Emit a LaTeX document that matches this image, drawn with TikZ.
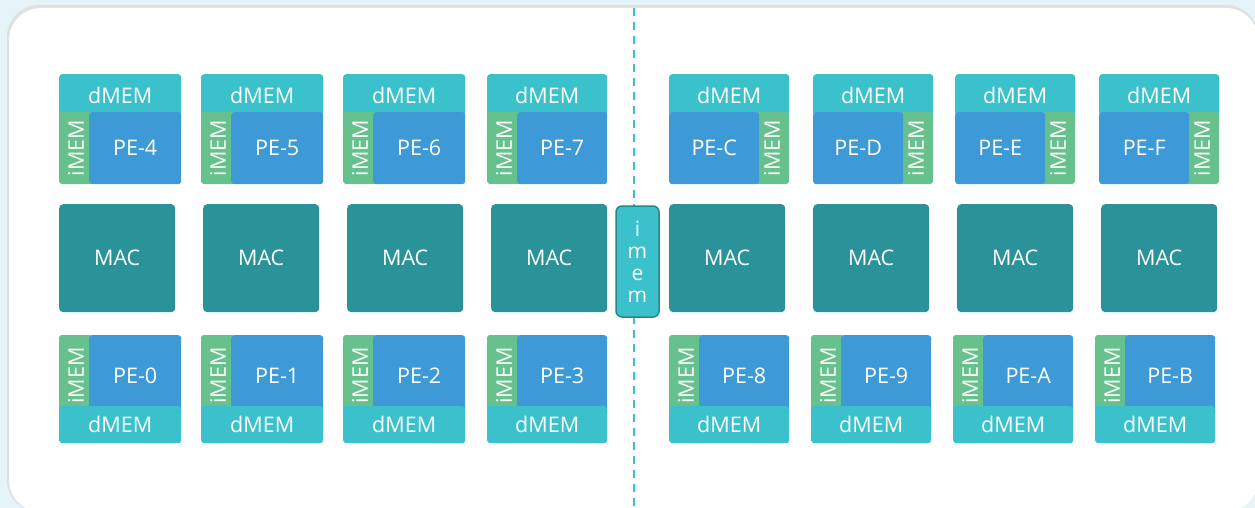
\documentclass[tikz,border=0pt]{standalone}
\usepackage{fontspec}
\setmainfont{Open Sans}
\usepackage{tikz}

\definecolor{bgtint}{HTML}{E4F4F8}
\definecolor{dmemcyan}{HTML}{3BC1CC}
\definecolor{peblue}{HTML}{3D9AD6}
\definecolor{imemgreen}{HTML}{67C18D}
\definecolor{macteal}{HTML}{2A9299}
\definecolor{imemedge}{HTML}{27878F}

\newcommand{\tilefont}{\fontsize{21.5}{24}\selectfont}
\newcommand{\stackfont}{\fontsize{21}{22}\selectfont}

\tikzset{
  tile/.style={inner sep=0pt, anchor=north west, text=white,
               rounded corners=3pt, font=\tilefont},
  dmem/.style={tile, fill=dmemcyan, minimum height=#1},
  pecore/.style={tile, fill=peblue, minimum width=#1},
  imemstrip/.style={tile, fill=imemgreen, anchor=center, rotate=90,
                    minimum height=34pt, minimum width=#1},
  mac/.style={tile, fill=macteal, rounded corners=4pt,
              minimum width=116pt, minimum height=108pt},
  imembox/.style={fill=dmemcyan, draw=imemedge, line width=1.5pt,
                  rounded corners=6pt, text=white, inner sep=0pt,
                  minimum width=43pt, minimum height=111pt,
                  align=center, font=\stackfont},
  busline/.style={dmemcyan, line width=1.5pt, dash pattern=on 8pt off 6pt}
}

\begin{document}
\begin{tikzpicture}[x=1pt, y=-1pt]

\useasboundingbox (0,0) rectangle (1255,508);
\clip (0,0) rectangle (1255,508);

% backdrop and panel
\fill[bgtint] (0,0) rectangle (1255,508);
\fill[black!12, rounded corners=32pt] (7,5) rectangle (1258,512);
\fill[white, rounded corners=32pt] (9,8) rectangle (1258,512);

% shared bus
\coordinate (bustop) at (634,8);
\coordinate (busbot) at (634,508);
\draw[busline] (bustop) -- (busbot);

% upper row, left half
\node[dmem=42pt, minimum width=122pt] (dmem4) at (59,74) {dMEM};
\node[imemstrip=72pt] (imem4) at (76,148) {iMEM};
\node[pecore=92pt, minimum height=72pt] (pe4) at (89,112) {PE-4};

\node[dmem=42pt, minimum width=122pt] (dmem5) at (201,74) {dMEM};
\node[imemstrip=72pt] (imem5) at (218,148) {iMEM};
\node[pecore=92pt, minimum height=72pt] (pe5) at (231,112) {PE-5};

\node[dmem=42pt, minimum width=122pt] (dmem6) at (343,74) {dMEM};
\node[imemstrip=72pt] (imem6) at (360,148) {iMEM};
\node[pecore=92pt, minimum height=72pt] (pe6) at (373,112) {PE-6};

\node[dmem=42pt, minimum width=120pt] (dmem7) at (487,74) {dMEM};
\node[imemstrip=72pt] (imem7) at (504,148) {iMEM};
\node[pecore=90pt, minimum height=72pt] (pe7) at (517,112) {PE-7};

% upper row, right half
\node[dmem=42pt, minimum width=120pt] (dmemC) at (669,74) {dMEM};
\node[imemstrip=72pt] (imemC) at (772,148) {iMEM};
\node[pecore=90pt, minimum height=72pt] (peC) at (669,112) {PE-C};

\node[dmem=42pt, minimum width=120pt] (dmemD) at (813,74) {dMEM};
\node[imemstrip=72pt] (imemD) at (916,148) {iMEM};
\node[pecore=90pt, minimum height=72pt] (peD) at (813,112) {PE-D};

\node[dmem=42pt, minimum width=120pt] (dmemE) at (955,74) {dMEM};
\node[imemstrip=72pt] (imemE) at (1058,148) {iMEM};
\node[pecore=90pt, minimum height=72pt] (peE) at (955,112) {PE-E};

\node[dmem=42pt, minimum width=120pt] (dmemF) at (1099,74) {dMEM};
\node[imemstrip=72pt] (imemF) at (1202,148) {iMEM};
\node[pecore=90pt, minimum height=72pt] (peF) at (1099,112) {PE-F};

% MAC row
\node[mac] (mac0) at (59,204) {MAC};
\node[mac] (mac1) at (203,204) {MAC};
\node[mac] (mac2) at (347,204) {MAC};
\node[mac] (mac3) at (491,204) {MAC};
\node[mac] (mac4) at (669,204) {MAC};
\node[mac] (mac5) at (813,204) {MAC};
\node[mac] (mac6) at (957,204) {MAC};
\node[mac] (mac7) at (1101,204) {MAC};

\node[imembox] (imem) at (637.5,261.5) {i\\m\\e\\m};

% lower row, left half
\node[imemstrip=81pt] (imem0) at (76,375.5) {iMEM};
\node[pecore=92pt, minimum height=81pt] (pe0) at (89,335) {PE-0};
\node[dmem=37pt, minimum width=122pt] (dmem0) at (59,406) {dMEM};

\node[imemstrip=81pt] (imem1) at (218,375.5) {iMEM};
\node[pecore=92pt, minimum height=81pt] (pe1) at (231,335) {PE-1};
\node[dmem=37pt, minimum width=122pt] (dmem1) at (201,406) {dMEM};

\node[imemstrip=81pt] (imem2) at (360,375.5) {iMEM};
\node[pecore=92pt, minimum height=81pt] (pe2) at (373,335) {PE-2};
\node[dmem=37pt, minimum width=122pt] (dmem2) at (343,406) {dMEM};

\node[imemstrip=81pt] (imem3) at (504,375.5) {iMEM};
\node[pecore=90pt, minimum height=81pt] (pe3) at (517,335) {PE-3};
\node[dmem=37pt, minimum width=120pt] (dmem3) at (487,406) {dMEM};

% lower row, right half
\node[imemstrip=81pt] (imem8) at (686,375.5) {iMEM};
\node[pecore=90pt, minimum height=81pt] (pe8) at (699,335) {PE-8};
\node[dmem=37pt, minimum width=120pt] (dmem8) at (669,406) {dMEM};

\node[imemstrip=81pt] (imem9) at (828,375.5) {iMEM};
\node[pecore=90pt, minimum height=81pt] (pe9) at (841,335) {PE-9};
\node[dmem=37pt, minimum width=120pt] (dmem9) at (811,406) {dMEM};

\node[imemstrip=81pt] (imemA) at (970,375.5) {iMEM};
\node[pecore=90pt, minimum height=81pt] (peA) at (983,335) {PE-A};
\node[dmem=37pt, minimum width=120pt] (dmemA) at (953,406) {dMEM};

\node[imemstrip=81pt] (imemB) at (1112,375.5) {iMEM};
\node[pecore=90pt, minimum height=81pt] (peB) at (1125,335) {PE-B};
\node[dmem=37pt, minimum width=120pt] (dmemB) at (1095,406) {dMEM};

\end{tikzpicture}
\end{document}
